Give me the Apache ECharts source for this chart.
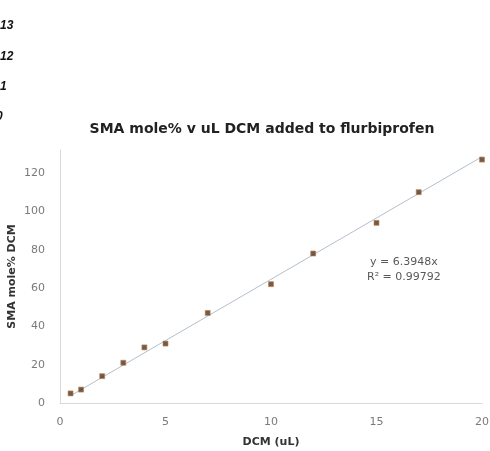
<!DOCTYPE html>
<html>
<head>
<meta charset="utf-8">
<script src="https://cdn.jsdelivr.net/npm/echarts@6/dist/echarts.min.js"></script>
<style>html,body{margin:0;padding:0;background:#fff;}#c{width:490px;height:451px;}</style>
</head>
<body>
<div id="c"></div>
<script>
// Data
var dcmUl = [0.5, 1, 2, 3, 4, 5, 7, 10, 12, 15, 17, 20];
var smaMolePct = [5, 7, 14, 21, 29, 31, 47, 62, 78, 94, 110, 127];
var trendSlope = 6.3948;
var trendIntercept = 0.6;
var trendRange = [0.5, 20];
var xTicks = [0, 5, 10, 15, 20];
var yTicks = [0, 20, 40, 60, 80, 100, 120];
var titleText = 'SMA mole% v uL DCM added to flurbiprofen';
var xTitle = 'DCM (uL)';
var yTitle = 'SMA mole% DCM';
var eqText = 'y = 6.3948x';
var r2Text = 'R\u00b2 = 0.99792';
var strayLabels = ['13', '12', '1', '0'];

var trendData = trendRange.map(function (x) { return [x, trendSlope * x + trendIntercept]; });
var scatterData = dcmUl.map(function (x, i) { return [x, smaMolePct[i]]; });

var chart = echarts.init(document.getElementById('c'), null, {renderer: 'canvas'});
var labelFont = 'DejaVu Sans';
var strayY = [27, 58, 88, 118];
var strayX = [0, 0, 0, -4];
var graphics = strayLabels.map(function (t, i) {
  return {type: 'text', left: strayX[i], top: strayY[i] - 7,
    style: {text: t, font: 'italic bold 12px "Liberation Sans"', fill: '#111'}};
});
graphics.push({type: 'text', left: 370, top: 257,
  style: {text: eqText, font: '11px ' + labelFont, fill: '#595959'}});
graphics.push({type: 'text', left: 367, top: 272,
  style: {text: r2Text, font: '11px ' + labelFont, fill: '#595959'}});

chart.setOption({
  animation: false,
  backgroundColor: '#fff',
  title: {
    text: titleText, left: 257, top: 117, textAlign: 'center',
    textStyle: {fontFamily: labelFont, fontSize: 14, fontWeight: 'bold', color: '#222'}
  },
  grid: {left: 60, right: 8, top: 150, bottom: 48, outerBoundsMode: 'none', containLabel: false},
  xAxis: {
    type: 'value', min: 0, max: 20, interval: 5,
    name: xTitle, nameLocation: 'middle', nameGap: 34, nameMoveOverlap: false,
    nameTextStyle: {fontFamily: labelFont, fontSize: 11, fontWeight: 'bold', color: '#333'},
    axisLine: {show: true, lineStyle: {color: '#d9d9d9'}},
    axisTick: {show: false},
    splitLine: {show: false},
    axisLabel: {fontFamily: labelFont, fontSize: 11, color: '#7a7a7a', margin: 14,
      formatter: function (v) { return xTicks.indexOf(v) >= 0 ? String(v) : ''; }}
  },
  yAxis: {
    type: 'value', min: 0, max: 132, interval: 20,
    name: yTitle, nameLocation: 'middle', nameGap: 42, nameMoveOverlap: false,
    nameTextStyle: {fontFamily: labelFont, fontSize: 11, fontWeight: 'bold', color: '#333'},
    axisLine: {show: true, lineStyle: {color: '#d9d9d9'}},
    axisTick: {show: false},
    splitLine: {show: false},
    axisLabel: {fontFamily: labelFont, fontSize: 11, color: '#7a7a7a', margin: 15,
      formatter: function (v) { return yTicks.indexOf(v) >= 0 ? String(v) : ''; }}
  },
  series: [
    {type: 'line', data: trendData, symbol: 'none', silent: true,
      lineStyle: {color: '#b4c0cc', width: 1}, z: 1},
    {type: 'scatter', data: scatterData, symbol: 'rect', symbolSize: 5,
      itemStyle: {color: '#4a3322', borderColor: '#c9834a', borderWidth: 0.8}, z: 2}
  ],
  graphic: graphics
});
</script>
</body>
</html>
